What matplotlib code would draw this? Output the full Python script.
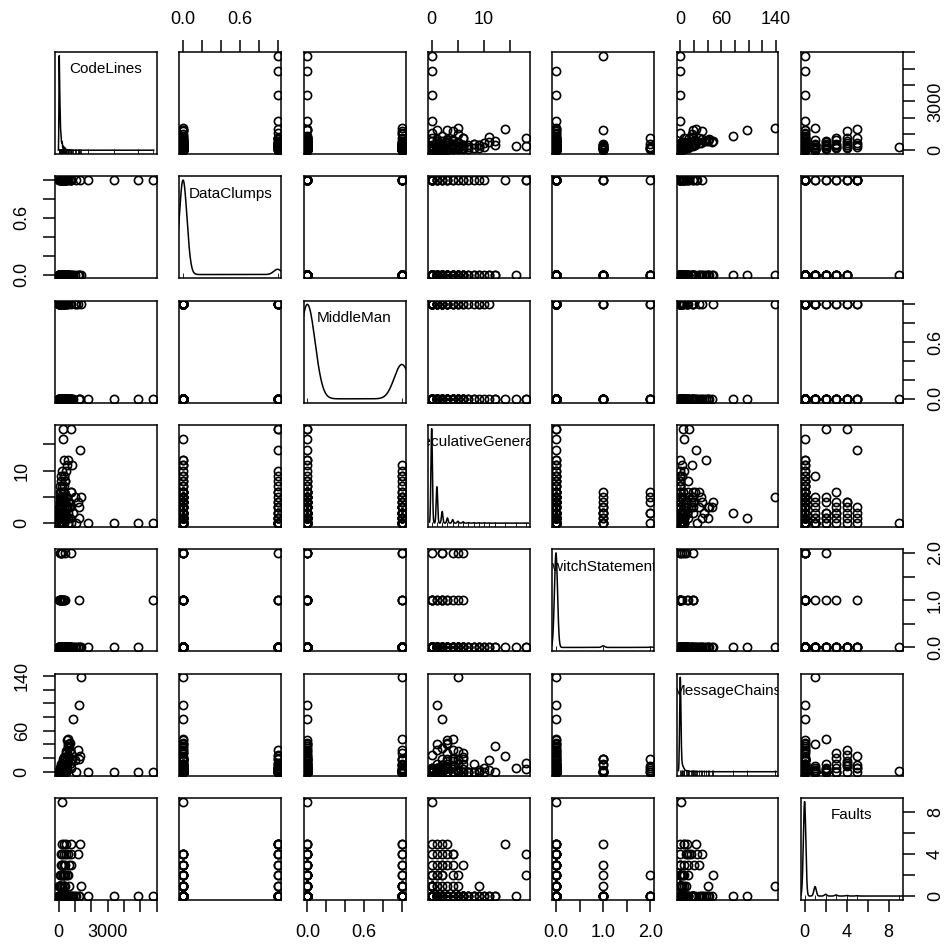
import numpy as np
import matplotlib
matplotlib.use("Agg")
import matplotlib.pyplot as plt

plt.rcParams['font.family'] = ['Liberation Sans', 'DejaVu Sans']

# one entry per distinct observation, `counts` = how many rows share it
code_lines = [
    5790, 4840, 3410, 1770, 1340, 1220, 860, 230, 270, 780, 270, 1290, 560, 800, 330, 740,
    1200, 470, 190, 740, 300, 600, 400, 650, 350, 500, 780, 200, 120, 1230, 1020, 350,
    500, 140, 90, 180, 25, 60, 110, 200, 400, 300, 150, 250, 60, 150,
    8, 15, 22, 30, 38, 45, 55, 65, 78, 92, 110, 135, 165, 210, 280,
    12, 25, 35, 48, 60, 75, 95, 120, 150, 190, 250,
    20, 32, 42, 58, 70, 85, 105, 130, 160, 200, 260, 28, 50, 80, 140,
    35, 62, 100, 170, 45, 90, 50, 110, 230, 70, 60, 140, 320, 85, 75, 190, 120,
    90, 240, 150, 110, 300, 180, 130, 400, 160, 350, 200, 450,
    40, 90, 55, 130, 70, 180, 85, 220, 100, 120, 150, 180, 220, 260, 300, 350, 420, 480, 550, 600, 700,
    30, 60, 100, 150, 220, 300, 400, 90, 45, 80, 160, 250, 350, 500,
    120, 220, 400, 650, 150, 350, 600, 200, 450,
    20, 45, 80, 130, 200, 300, 500, 700, 1080, 260, 320, 410,
]
data_clumps = [
    1, 1, 1, 1, 0, 0, 0, 0, 1, 1, 0, 1, 0, 0, 1, 1,
    0, 0, 1, 0, 1, 0, 0, 0, 0, 0, 1, 0, 0, 0, 0, 0,
    0, 0, 0, 0, 0, 0, 0, 0, 1, 0, 0, 0, 0, 0,
    0, 0, 0, 0, 0, 0, 0, 0, 0, 0, 0, 0, 0, 0, 0,
    0, 0, 0, 0, 0, 0, 0, 0, 0, 0, 0,
    0, 0, 0, 0, 0, 0, 0, 0, 0, 0, 0, 0, 0, 0, 0,
    0, 0, 0, 0, 0, 0, 0, 0, 0, 0, 0, 0, 0, 0, 0, 0, 0,
    0, 0, 0, 0, 0, 1, 0, 0, 0, 1, 0, 1,
    0, 0, 0, 0, 0, 0, 0, 0, 0, 0, 0, 0, 0, 0, 0, 0, 0, 0, 0, 0, 0,
    0, 0, 0, 0, 0, 0, 0, 1, 0, 0, 0, 0, 1, 0,
    0, 0, 1, 0, 0, 0, 1, 1, 1,
    1, 1, 1, 1, 1, 1, 1, 1, 1, 1, 1, 1,
]
middle_man = [
    0, 0, 0, 0, 1, 0, 0, 0, 0, 0, 0, 0, 0, 0, 1, 0,
    1, 0, 0, 0, 1, 1, 0, 0, 1, 0, 1, 0, 1, 0, 1, 0,
    1, 0, 0, 0, 0, 1, 0, 0, 0, 0, 1, 0, 0, 0,
    0, 0, 0, 0, 0, 0, 0, 0, 0, 0, 0, 0, 0, 0, 0,
    1, 1, 1, 1, 1, 1, 1, 1, 1, 1, 1,
    0, 0, 0, 0, 0, 0, 0, 0, 0, 0, 0, 1, 1, 1, 1,
    0, 0, 0, 0, 1, 1, 0, 0, 0, 1, 0, 0, 0, 1, 0, 0, 1,
    0, 0, 1, 0, 1, 0, 0, 1, 0, 1, 0, 1,
    0, 1, 0, 0, 1, 0, 0, 1, 0, 1, 0, 1, 0, 0, 1, 0, 1, 0, 0, 0, 0,
    0, 0, 1, 0, 0, 1, 0, 0, 1, 0, 0, 1, 0, 0,
    0, 1, 0, 0, 0, 1, 0, 1, 0,
    0, 0, 0, 1, 0, 0, 0, 0, 1, 0, 0, 0,
]
spec_general = [
    0, 0, 0, 0, 5, 1, 2, 0, 18, 18, 16, 14, 12, 11, 2, 0,
    4, 3, 4, 6, 3, 4, 2, 3, 9, 3, 6, 5, 0, 3, 5, 12,
    11, 1, 0, 2, 0, 0, 1, 2, 4, 6, 3, 5, 2, 4,
    0, 0, 0, 0, 0, 0, 0, 0, 0, 0, 0, 0, 0, 0, 0,
    0, 0, 0, 0, 0, 0, 0, 0, 0, 0, 0,
    1, 1, 1, 1, 1, 1, 1, 1, 1, 1, 1, 1, 1, 1, 1,
    2, 2, 2, 2, 2, 2, 3, 3, 3, 3, 4, 4, 4, 4, 5, 5, 5,
    6, 6, 6, 7, 7, 7, 8, 8, 9, 9, 10, 10,
    0, 0, 0, 1, 0, 2, 0, 1, 1, 0, 3, 2, 1, 4, 2, 6, 3, 5, 2, 1, 3,
    0, 1, 0, 2, 0, 1, 4, 0, 0, 0, 1, 0, 2, 5,
    0, 2, 1, 4, 1, 2, 0, 3, 1,
    0, 0, 1, 0, 2, 0, 3, 1, 0, 5, 6, 8,
]
switch_stmts = [
    1, 0, 0, 0, 0, 0, 0, 0, 0, 0, 0, 0, 0, 0, 1, 0,
    0, 0, 0, 0, 0, 0, 2, 0, 0, 0, 2, 2, 2, 1, 0, 0,
    0, 1, 1, 1, 1, 1, 1, 1, 1, 1, 1, 1, 2, 2,
    0, 0, 0, 0, 0, 0, 0, 0, 0, 0, 0, 0, 0, 0, 0,
    0, 0, 0, 0, 0, 0, 0, 0, 0, 0, 0,
    0, 0, 0, 0, 0, 0, 0, 0, 0, 0, 0, 0, 0, 0, 0,
    0, 0, 0, 0, 0, 0, 0, 0, 0, 0, 0, 0, 0, 0, 0, 0, 0,
    0, 0, 0, 0, 0, 0, 0, 0, 0, 0, 0, 0,
    0, 0, 0, 0, 0, 0, 0, 0, 0, 0, 0, 0, 0, 0, 0, 0, 0, 0, 0, 0, 0,
    0, 0, 0, 0, 0, 0, 0, 0, 0, 0, 0, 0, 0, 0,
    0, 0, 0, 0, 0, 0, 0, 0, 0,
    0, 0, 0, 0, 0, 0, 0, 0, 0, 0, 0, 0,
]
message_chains = [
    0, 0, 0, 0, 138, 97, 77, 1, 4, 13, 5, 23, 37, 17, 10, 5,
    32, 15, 8, 28, 12, 48, 6, 40, 2, 47, 19, 3, 0, 19, 17, 0,
    3, 0, 0, 0, 0, 0, 0, 3, 19, 12, 0, 19, 0, 8,
    0, 0, 0, 0, 0, 0, 0, 0, 0, 0, 0, 0, 0, 0, 0,
    0, 0, 0, 0, 0, 0, 0, 0, 0, 0, 0,
    0, 0, 0, 0, 0, 0, 0, 0, 0, 0, 0, 0, 0, 0, 0,
    0, 0, 0, 0, 0, 0, 0, 0, 0, 0, 0, 0, 0, 0, 0, 0, 0,
    0, 0, 0, 0, 0, 0, 11, 0, 0, 0, 5, 0,
    1, 1, 2, 2, 3, 3, 4, 4, 5, 6, 8, 10, 12, 15, 18, 22, 28, 30, 35, 40, 42,
    0, 0, 0, 2, 5, 0, 8, 0, 1, 0, 0, 3, 0, 12,
    0, 0, 6, 20, 0, 10, 25, 0, 6,
    0, 0, 0, 0, 3, 0, 6, 32, 0, 0, 4, 0,
]
faults = [
    0, 0, 0, 0, 1, 0, 0, 9, 2, 4, 0, 5, 0, 0, 5, 5,
    4, 4, 4, 3, 3, 2, 2, 1, 1, 0, 0, 0, 0, 0, 0, 0,
    0, 2, 1, 3, 0, 0, 0, 0, 0, 0, 0, 0, 0, 0,
    0, 0, 0, 0, 0, 0, 0, 0, 0, 0, 0, 0, 0, 0, 0,
    0, 0, 0, 0, 0, 0, 0, 0, 0, 0, 0,
    0, 0, 0, 0, 0, 0, 0, 0, 0, 0, 0, 0, 0, 0, 0,
    0, 0, 0, 0, 0, 0, 0, 0, 0, 0, 0, 0, 0, 0, 0, 0, 0,
    0, 0, 0, 0, 0, 0, 0, 0, 0, 0, 0, 0,
    0, 0, 0, 0, 0, 0, 0, 0, 0, 0, 0, 0, 0, 0, 0, 0, 0, 0, 0, 0, 0,
    1, 1, 1, 1, 1, 1, 1, 1, 1, 2, 2, 2, 2, 2,
    3, 3, 3, 3, 4, 4, 4, 5, 5,
    0, 0, 0, 0, 0, 1, 0, 0, 0, 0, 0, 0,
]
counts = [
    1, 1, 1, 1, 1, 1, 1, 1, 1, 1, 1, 1, 1, 1, 1, 1,
    1, 1, 1, 1, 1, 1, 1, 1, 1, 1, 1, 1, 4, 1, 1, 1,
    1, 1, 3, 1, 10, 10, 8, 5, 2, 1, 2, 1, 3, 1,
    60, 80, 100, 120, 110, 90, 80, 60, 45, 35, 30, 25, 18, 12, 8,
    30, 50, 60, 50, 40, 30, 25, 20, 15, 10, 8,
    50, 70, 60, 50, 40, 35, 30, 22, 15, 10, 6, 25, 25, 20, 12,
    25, 25, 20, 12, 15, 12, 20, 18, 10, 15, 15, 10, 5, 10, 10, 6, 8,
    6, 4, 5, 5, 3, 3, 4, 2, 3, 2, 3, 2,
    60, 40, 50, 30, 40, 20, 30, 15, 25, 20, 15, 12, 10, 8, 6, 4, 3, 2, 2, 1, 1,
    55, 50, 40, 25, 20, 15, 8, 12, 15, 15, 12, 8, 5, 3,
    12, 8, 4, 2, 5, 4, 2, 3, 3,
    20, 25, 15, 15, 10, 5, 3, 2, 1, 2, 2, 1,
]

names = ['CodeLines', 'DataClumps', 'MiddleMan', 'SpeculativeGenerality',
         'SwitchStatements', 'MessageChains', 'Faults']

# axis ticks, '' = tick without a label
ticks = [
    [0, 1000, 2000, 3000, 4000, 5000, 6000],
    [0, 0.2, 0.4, 0.6, 0.8, 1.0],
    [0, 0.2, 0.4, 0.6, 0.8, 1.0],
    [0, 5, 10, 15],
    [0, 0.5, 1.0, 1.5, 2.0],
    [0, 20, 40, 60, 80, 100, 120, 140],
    [0, 2, 4, 6, 8],
]
tick_text = [
    ['0', '', '', '3000', '', '', ''],
    ['0.0', '', '', '0.6', '', ''],
    ['0.0', '', '', '0.6', '', ''],
    ['0', '', '10', ''],
    ['0.0', '', '1.0', '', '2.0'],
    ['0', '', '', '60', '', '', '', '140'],
    ['0', '', '4', '', '8'],
]

cols = [np.array(v, dtype=float) for v in
        (code_lines, data_clumps, middle_man, spec_general, switch_stmts, message_chains, faults)]
w = np.array(counts)
assert all(len(c) == len(w) for c in cols)


def r_density(x, wt):
    # same as R density() with bw.nrd0
    full = np.repeat(x, wt)
    n = len(full)
    sd = full.std(ddof=1)
    q75, q25 = np.percentile(full, [75, 25])
    lo = min(sd, (q75 - q25) / 1.34)
    if lo == 0:
        lo = sd
    bw = 0.9 * lo * n ** -0.2
    grid = np.linspace(full.min() - 3 * bw, full.max() + 3 * bw, 512)
    k = np.exp(-0.5 * ((grid[:, None] - x[None, :]) / bw) ** 2)
    dens = (k * wt[None, :]).sum(axis=1) / (n * bw * np.sqrt(2 * np.pi))
    return grid, dens


def padded(lo, hi):
    r = hi - lo
    return lo - 0.04 * r, hi + 0.04 * r


lims = [padded(c.min(), c.max()) for c in cols]

fig = plt.figure(figsize=(9.5, 9.5), dpi=100)
lw = 1.1
for i in range(7):
    for j in range(7):
        ax = fig.add_axes([(55 + 124.3 * j) / 950, 1 - (154 + 124.3 * i) / 950, 102 / 950, 102 / 950])
        for s in ax.spines.values():
            s.set_linewidth(lw)
        ax.set_xlim(lims[j])
        ax.set_ylim(lims[i])
        if i == j:
            gx, gy = r_density(cols[i], w)
            dlo, dhi = padded(gy.min(), gy.max())
            ylo, yhi = lims[i]
            ax.plot(gx, ylo + (gy - dlo) / (dhi - dlo) * (yhi - ylo), color='black', lw=lw)
            ax.vlines(np.unique(cols[i]), ylo, ylo + 0.05 * (yhi - ylo), color='black', lw=0.6)
            ax.text(0.5, 0.83, names[i], transform=ax.transAxes, ha='center', va='center',
                    fontsize=11, clip_on=True)
        else:
            ax.plot(cols[j], cols[i], 'o', mfc='none', mec='black', ms=5.9, mew=1.2)

        ax.tick_params(direction='out', length=8.5, width=lw, pad=9, labelsize=13)
        ax.set_xticks([])
        ax.set_yticks([])
        if i == 0 and j % 2 == 1:
            ax.xaxis.tick_top()
            ax.set_xticks(ticks[j], tick_text[j])
        if i == 6 and j % 2 == 0:
            ax.set_xticks(ticks[j], tick_text[j])
        if (j == 0 and i % 2 == 1) or (j == 6 and i % 2 == 0):
            if j == 6:
                ax.yaxis.tick_right()
            ax.set_yticks(ticks[i], tick_text[i])
            ax.tick_params(axis='y', labelrotation=90)
            plt.setp(ax.yaxis.get_majorticklabels(), va='center')

fig.savefig('out.png', dpi=100)
